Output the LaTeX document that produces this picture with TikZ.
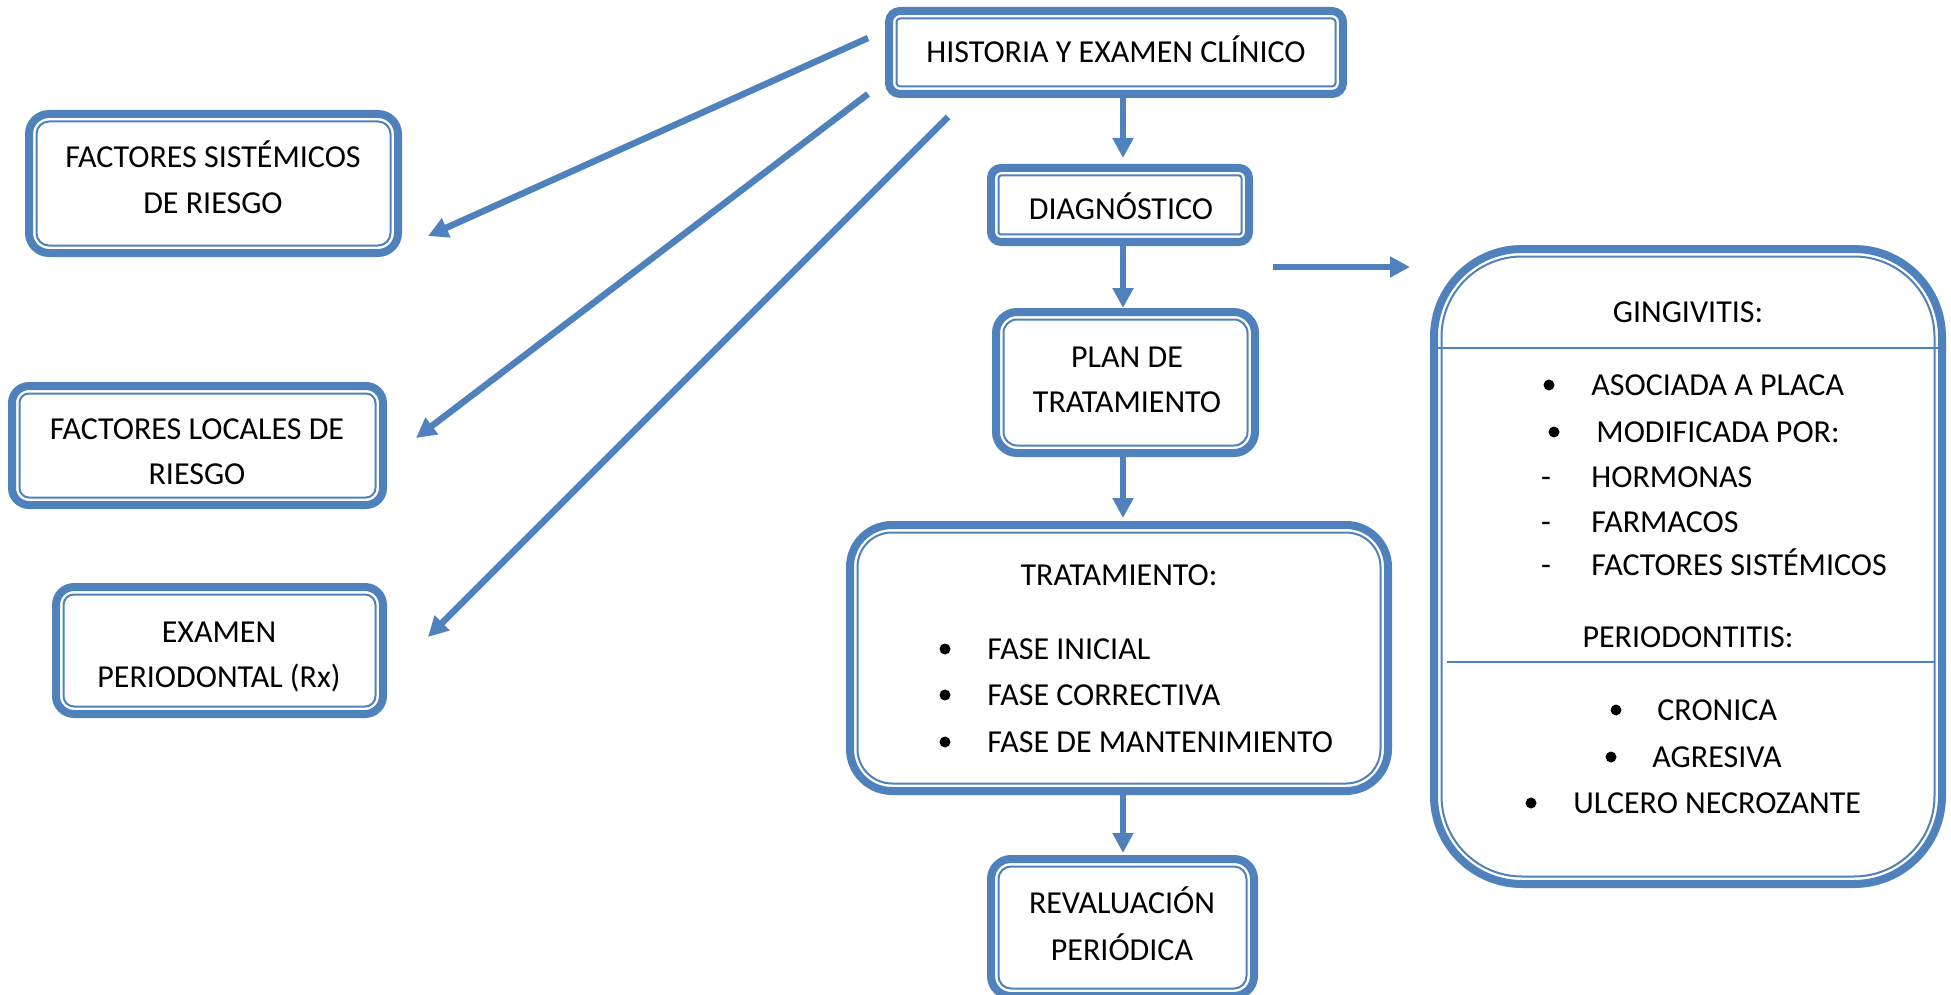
\documentclass[tikz,border=0pt]{standalone}
\usepackage{fontspec}
\setmainfont{Carlito}
\usetikzlibrary{arrows.meta,calc}
\definecolor{accent}{RGB}{79,129,189}

\tikzset{
  boxframe/.style={draw=accent, line width=4pt, fill=white, inner sep=0pt, outer sep=0pt},
  boxinner/.style={draw=accent, line width=1pt},
  sepline/.style={draw=accent, line width=1pt},
  lbl/.style={font=\fontsize{16}{23}\selectfont, inner sep=0pt, text height=10.3pt, text depth=0pt},
  listitem/.style={lbl, anchor=west},
  bulletdot/.style={circle, fill=black, inner sep=0pt, minimum size=5.5pt},
  flow/.style={draw=accent, line width=3.25pt, -{Triangle[length=10pt,width=10pt]}},
}

% Double frame: thick outer stroke with a thin inner line.
% #1 name, (#2,#3) top-left and (#4,#5) bottom-right outer edge, #6 corner radius
\newcommand{\dframe}[6]{%
  \pgfmathsetmacro{\fw}{(#4-#2-8)*0.5}%
  \pgfmathsetmacro{\fh}{(#5-#3-8)*0.5}%
  \pgfmathsetmacro{\fro}{(#6-4)*0.5}%
  \pgfmathsetmacro{\fri}{(#6-11.5)*0.5}%
  \node[boxframe, minimum width=\fw pt, minimum height=\fh pt, rounded corners=\fro pt] (#1) at ({(#2+#4)/2},{(#3+#5)/2}) {};
  \draw[boxinner, rounded corners=\fri pt] ($(#1.north west)+(7.5,7.5)$) rectangle ($(#1.south east)+(-7.5,-7.5)$);
}

\begin{document}
\begin{tikzpicture}[x=0.5pt, y=-0.5pt]
\useasboundingbox (0,0) rectangle (1951,995);
\clip (0,0) rectangle (1951,995);

% frames
\dframe{hist}{885}{7}{1347}{98}{15}
\dframe{diag}{987}{164}{1253}{246}{14}
\dframe{plan}{992}{308}{1259}{457}{25}
\dframe{trat}{846}{521}{1392}{795}{46}
\dframe{reval}{987}{855}{1258}{1000}{24}
\dframe{sist}{25}{110}{402}{257}{24}
\dframe{local}{8}{382}{387}{509}{21}
\dframe{exam}{52}{583}{387}{718}{22}
\dframe{ging}{1430}{245}{1946}{888}{92}

% texts of the simple frames
\node[lbl] (histT) at (1116,52) {HISTORIA Y EXAMEN CLÍNICO};
\node[lbl] (diagT) at (1121,209) {DIAGNÓSTICO};
\node[lbl] (planT1) at (1127,357) {PLAN DE};
\node[lbl] (planT2) at (1127,402) {TRATAMIENTO};
\node[lbl] (revalT1) at (1122,903) {REVALUACIÓN};
\node[lbl] (revalT2) at (1122,950) {PERIÓDICA};
\node[lbl] (sistT1) at (213,157) {FACTORES SISTÉMICOS};
\node[lbl] (sistT2) at (213,203) {DE RIESGO};
\node[lbl] (localT1) at (197,429) {FACTORES LOCALES DE};
\node[lbl] (localT2) at (197,474) {RIESGO};
\node[lbl] (examT1) at (219,632) {EXAMEN};
\node[lbl] (examT2) at (219,677) {PERIODONTAL (Rx)};

% treatment phases
\node[lbl] (tratT) at (1119,575) {TRATAMIENTO:};
\node[bulletdot] (tb1) at (945,649) {};
\node[bulletdot] (tb2) at (945,695) {};
\node[bulletdot] (tb3) at (945,742) {};
\node[listitem] (ti1) at (987,649) {FASE INICIAL};
\node[listitem] (ti2) at (987,695) {FASE CORRECTIVA};
\node[listitem] (ti3) at (987,742) {FASE DE MANTENIMIENTO};

% classification
\node[lbl] (gingT) at (1688,312) {GINGIVITIS:};
\draw[sepline] (1437,348) -- (1940,348);
\node[bulletdot] (gb1) at (1549,385) {};
\node[listitem] (gi1) at (1591,385) {ASOCIADA A PLACA};
\node[bulletdot] (gb2) at (1554,432) {};
\node[listitem] (gi2) at (1596,432) {MODIFICADA POR:};
\node[lbl] (gd1) at (1546,477) {-};
\node[listitem] (gi3) at (1591,477) {HORMONAS};
\node[lbl] (gd2) at (1546,522) {-};
\node[listitem] (gi4) at (1591,522) {FARMACOS};
\node[lbl] (gd3) at (1546,565) {-};
\node[listitem] (gi5) at (1591,565) {FACTORES SISTÉMICOS};
\node[lbl] (perT) at (1688,637) {PERIODONTITIS:};
\draw[sepline] (1447,662) -- (1935,662);
\node[bulletdot] (pb1) at (1616,710) {};
\node[listitem] (pi1) at (1657,710) {CRONICA};
\node[bulletdot] (pb2) at (1611,757) {};
\node[listitem] (pi2) at (1652,757) {AGRESIVA};
\node[bulletdot] (pb3) at (1531,803) {};
\node[listitem] (pi3) at (1573,803) {ULCERO NECROZANTE};

% main flow
\coordinate (spine) at (1123,0);
\draw[flow, shorten >=5pt] (hist.south -| spine) -- (diag.north -| spine);
\draw[flow, shorten >=2pt] (diag.south -| spine) -- (plan.north -| spine);
\draw[flow, shorten >=3.5pt] (plan.south -| spine) -- (trat.north -| spine);
\draw[flow, shorten >=3pt] (trat.south -| spine) -- (reval.north -| spine);

% side arrows
\coordinate (s1) at (868,38);  \coordinate (e1) at (428,236);
\coordinate (s2) at (868,94);  \coordinate (e2) at (416,438);
\coordinate (s3) at (948,117); \coordinate (e3) at (428,637);
\coordinate (s4) at (1273,267); \coordinate (e4) at (1410,267);
\draw[flow] (s1) -- (e1);
\draw[flow] (s2) -- (e2);
\draw[flow] (s3) -- (e3);
\draw[flow] (s4) -- (e4);
\end{tikzpicture}
\end{document}
